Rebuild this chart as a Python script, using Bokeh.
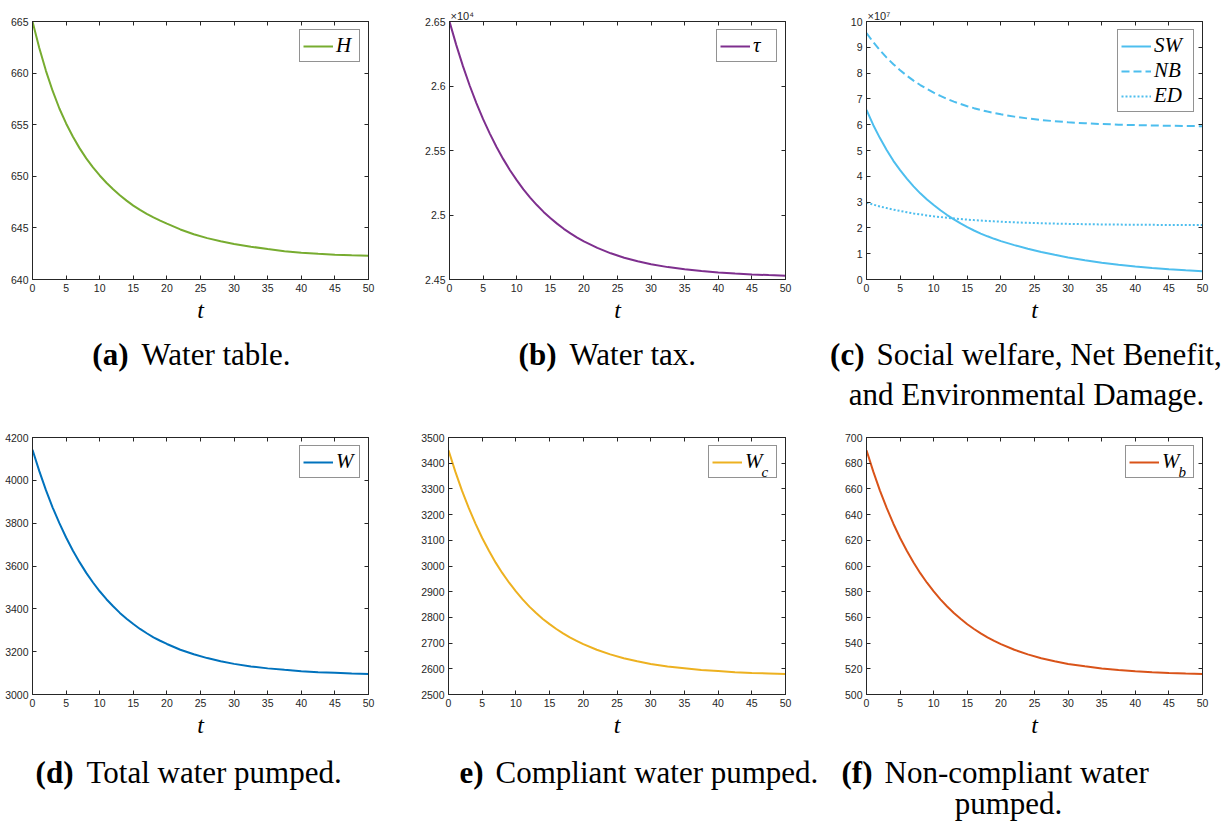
from bokeh.plotting import figure
from bokeh.layouts import column, row
from bokeh.models import Range1d, FixedTicker, LinearAxis, Legend, LegendItem, Label
from bokeh.embed import file_html
from bokeh.resources import INLINE

# ---------------- data ----------------
t = [0, 1, 2, 3, 4, 5, 6, 7, 8, 9, 10, 11, 12, 13, 14, 15, 16, 17, 18, 19, 20,
     22, 24, 26, 28, 30, 32.5, 35, 37.5, 40, 42.5, 45, 47.5, 50]

H = [665.00, 662.46, 660.22, 658.27, 656.57, 655.12, 653.85, 652.73, 651.74, 650.86,
     650.08, 649.38, 648.74, 648.16, 647.64, 647.16, 646.74, 646.37, 646.02, 645.70,
     645.41, 644.85, 644.39, 644.01, 643.70, 643.45, 643.18, 642.95, 642.74, 642.60,
     642.49, 642.41, 642.35, 642.30]

TAU = [26500, 26319, 26154, 26004, 25868, 25743, 25631, 25527, 25433, 25347,
       25270, 25199, 25135, 25077, 25024, 24976, 24933, 24893, 24858, 24825,
       24795, 24745, 24703, 24669, 24641, 24619, 24596, 24579, 24565, 24554,
       24546, 24539, 24534, 24530]

SW_e7 = [6.57, 5.99, 5.48, 5.02, 4.60, 4.24, 3.91, 3.61, 3.34, 3.10,
         2.885, 2.683, 2.498, 2.328, 2.172, 2.029, 1.899, 1.781, 1.674, 1.577,
         1.489, 1.333, 1.193, 1.068, 0.956, 0.855, 0.746, 0.650, 0.570, 0.500,
         0.447, 0.400, 0.358, 0.320]
NB_e7 = [9.55, 9.201, 8.886, 8.601, 8.343, 8.111, 7.900, 7.710, 7.538, 7.383,
         7.242, 7.115, 7.000, 6.896, 6.802, 6.718, 6.641, 6.572, 6.509, 6.453,
         6.401, 6.313, 6.241, 6.183, 6.135, 6.095, 6.056, 6.026, 6.002, 5.984,
         5.970, 5.958, 5.950, 5.943]
ED_e7 = [2.980, 2.903, 2.832, 2.768, 2.709, 2.656, 2.607, 2.562, 2.522, 2.484,
         2.451, 2.420, 2.392, 2.366, 2.343, 2.321, 2.302, 2.284, 2.268, 2.253,
         2.240, 2.216, 2.197, 2.180, 2.167, 2.156, 2.144, 2.135, 2.128, 2.122,
         2.118, 2.114, 2.111, 2.109]
E7 = 1e7
SW = [v * E7 for v in SW_e7]
NB = [v * E7 for v in NB_e7]
ED = [v * E7 for v in ED_e7]

W = [4143, 4044, 3954, 3873, 3800, 3733, 3672, 3618, 3568, 3523,
     3482, 3445, 3412, 3381, 3354, 3329, 3306, 3286, 3267, 3251,
     3236, 3209, 3188, 3170, 3155, 3143, 3131, 3122, 3115, 3109,
     3104, 3101, 3098, 3096]
WC = [3450, 3368, 3293, 3226, 3165, 3109, 3059, 3013, 2972, 2935,
      2901, 2870, 2842, 2817, 2794, 2774, 2755, 2738, 2722, 2709,
      2696, 2674, 2656, 2641, 2629, 2619, 2609, 2602, 2595, 2591,
      2587, 2584, 2582, 2580]
WB = [690.0, 673.6, 658.7, 645.2, 632.9, 621.8, 611.8, 602.7, 594.4, 587.0,
      580.2, 574.0, 568.5, 563.4, 558.9, 554.7, 551.0, 547.6, 544.5, 541.7,
      539.2, 534.8, 531.2, 528.2, 525.8, 523.8, 521.9, 520.3, 519.1, 518.1,
      517.4, 516.8, 516.3, 516.0]

# ticks
X_TICKS = [0, 5, 10, 15, 20, 25, 30, 35, 40, 45, 50]
H_TICKS = [640, 645, 650, 655, 660, 665]
TAU_TICKS = [24500, 25000, 25500, 26000, 26500]
TAU_LABELS = ["2.45", "2.5", "2.55", "2.6", "2.65"]
C_TICKS = [i * E7 for i in range(11)]
C_LABELS = [str(i) for i in range(11)]
W_TICKS = [3000, 3200, 3400, 3600, 3800, 4000, 4200]
WC_TICKS = [2500, 2600, 2700, 2800, 2900, 3000, 3100, 3200, 3300, 3400, 3500]
WB_TICKS = [500, 520, 540, 560, 580, 600, 620, 640, 660, 680, 700]

# ---------------- styling ----------------
AX = "#262626"
SANS = "Liberation Sans"
SERIF = "Liberation Serif"
C_H, C_TAU, C_SOC = "#77AC30", "#7E2F8E", "#4DBEEE"
C_W, C_WC, C_WB = "#0072BD", "#EDB120", "#D95319"
CAP_SIZE = "31px"


def style_axis(ax, show):
    ax.axis_line_color = AX
    ax.major_tick_line_color = AX
    ax.major_tick_in = 4
    ax.major_tick_out = 0
    ax.minor_tick_line_color = None
    ax.major_label_text_font = SANS
    if show:
        ax.major_label_text_font_size = "10.5px"
        ax.major_label_text_color = AX
        ax.major_label_standoff = 4
    else:
        ax.major_label_text_font_size = "1px"
        ax.major_label_text_color = None
        ax.major_label_standoff = 0


def panel(w, h, bl, br, bt, bb, yr, yticks, ylabels=None, mult=None):
    p = figure(width=w, height=h, x_range=Range1d(0, 50), y_range=Range1d(*yr),
               output_backend="svg", toolbar_location=None,
               min_border_left=bl, min_border_right=br,
               min_border_top=bt, min_border_bottom=bb,
               background_fill_color="white", border_fill_color="white")
    p.xgrid.visible = False
    p.ygrid.visible = False
    p.outline_line_color = AX
    xa, ya = p.xaxis[0], p.yaxis[0]
    xa.ticker = FixedTicker(ticks=X_TICKS)
    ya.ticker = FixedTicker(ticks=yticks)
    style_axis(xa, True)
    style_axis(ya, True)
    if ylabels is not None:
        ya.major_label_overrides = {float(k): v for k, v in zip(yticks, ylabels)}
    xa.axis_label = "t"
    xa.axis_label_text_font = SERIF
    xa.axis_label_text_font_style = "italic"
    xa.axis_label_text_font_size = "24px"
    xa.axis_label_text_color = "black"
    xa.axis_label_standoff = 2
    top = LinearAxis(ticker=FixedTicker(ticks=X_TICKS))
    style_axis(top, False)
    p.add_layout(top, "above")
    right = LinearAxis(ticker=FixedTicker(ticks=yticks))
    style_axis(right, False)
    p.add_layout(right, "right")
    if mult is not None:
        p.title.text = mult
        p.title.align = "left"
        p.title.text_font = SANS
        p.title.text_font_size = "11px"
        p.title.text_font_style = "normal"
        p.title.text_color = AX
        p.title.standoff = 0
        p.title.offset = 1
    return p


def legend(p, items, label_width=20, bg_alpha=1.0):
    leg = Legend(items=[LegendItem(label=l, renderers=[r]) for l, r in items],
                 location="top_right", margin=8, padding=3, spacing=0,
                 glyph_width=30, glyph_height=18, label_standoff=3,
                 label_width=label_width, label_height=18,
                 border_line_color=AX, border_line_width=1,
                 background_fill_color="white", background_fill_alpha=bg_alpha,
                 label_text_font=SERIF, label_text_font_style="italic",
                 label_text_font_size="21px", label_text_color="black")
    p.add_layout(leg)


def subscript(p, y1, text):
    p.add_layout(Label(x=50, y=y1, x_offset=-24, y_offset=-34, text=text,
                       text_align="left", text_baseline="alphabetic",
                       text_font=SERIF, text_font_style="italic",
                       text_font_size="15px", text_color="black"))


def caption_fig(w, h, lines):
    c = figure(width=w, height=h, x_range=Range1d(0, w), y_range=Range1d(0, h),
               output_backend="svg", toolbar_location=None, min_border=0,
               x_axis_type=None, y_axis_type=None, outline_line_color=None,
               background_fill_color="white", border_fill_color="white")
    try:
        c.frame_align = False
    except Exception:
        pass
    c.grid.visible = False
    for x, y, txt, align, style in lines:
        c.add_layout(Label(x=x, y=y, text=txt, text_align=align,
                           text_baseline="alphabetic", text_font=SERIF,
                           text_font_style=style, text_font_size=CAP_SIZE,
                           text_color="black"))
    return c


# layout geometry (page pixels)
COLW = (408, 418, 398)
R1P, R1C = 326, 100
R2P, R2C = 314, 82
BT1, BB1 = 21, 47
BT2, BB2 = 11, 45
Y1A, Y1B = 72, 32   # caption baselines, row 1
Y2A, Y2B = 50, 19   # caption baselines, row 2

# (a) water table
pa = panel(COLW[0], R1P, 32, 40, BT1, BB1, (640, 665), H_TICKS)
ra = pa.line(t, H, line_color=C_H, line_width=2)
legend(pa, [("H", ra)])
ca = caption_fig(COLW[0], R1C, [(128, Y1A, "(a)", "right", "bold"),
                                (141, Y1A, "Water table.", "left", "normal")])

# (b) water tax
pb = panel(COLW[1], R1P, 41, 41, BT1, BB1, (24500, 26500), TAU_TICKS, TAU_LABELS, mult="×10⁴")
rb = pb.line(t, TAU, line_color=C_TAU, line_width=2)
legend(pb, [("τ", rb)])
cb = caption_fig(COLW[1], R1C, [(148, Y1A, "(b)", "right", "bold"),
                                (161, Y1A, "Water tax.", "left", "normal")])

# (c) social welfare, net benefit, environmental damage
pc = panel(COLW[2], R1P, 40, 22, BT1, BB1, (0, 1e8), C_TICKS, C_LABELS, mult="×10⁷")
r_sw = pc.line(t, SW, line_color=C_SOC, line_width=2)
r_nb = pc.line(t, NB, line_color=C_SOC, line_width=2, line_dash="8 4")
r_ed = pc.line(t, ED, line_color=C_SOC, line_width=2, line_dash="2 2")
legend(pc, [("SW", r_sw), ("NB", r_nb), ("ED", r_ed)], label_width=36)
cc = caption_fig(COLW[2], R1C, [(38, Y1A, "(c)", "right", "bold"),
                                (50, Y1A, "Social welfare, Net Benefit,", "left", "normal"),
                                (200, Y1B, "and Environmental Damage.", "center", "normal")])

# (d) total water pumped
pd = panel(COLW[0], R2P, 32, 40, BT2, BB2, (3000, 4200), W_TICKS)
rd = pd.line(t, W, line_color=C_W, line_width=2)
legend(pd, [("W", rd)])
cd = caption_fig(COLW[0], R2C, [(73, Y2A, "(d)", "right", "bold"),
                                (86, Y2A, "Total water pumped.", "left", "normal")])

# (e) compliant water pumped
pe = panel(COLW[1], R2P, 40, 41, BT2, BB2, (2500, 3500), WC_TICKS)
re_ = pe.line(t, WC, line_color=C_WC, line_width=2)
legend(pe, [("W", re_)], label_width=28, bg_alpha=0.0)
subscript(pe, 3500, "c")
ce = caption_fig(COLW[1], R2C, [(75, Y2A, "e)", "right", "bold"),
                                (87, Y2A, "Compliant water pumped.", "left", "normal")])

# (f) non-compliant water pumped
pf = panel(COLW[2], R2P, 40, 22, BT2, BB2, (500, 700), WB_TICKS)
rf = pf.line(t, WB, line_color=C_WB, line_width=2)
legend(pf, [("W", rf)], label_width=28, bg_alpha=0.0)
subscript(pf, 700, "b")
cf = caption_fig(COLW[2], R2C, [(46, Y2A, "(f)", "right", "bold"),
                                (58, Y2A, "Non-compliant water", "left", "normal"),
                                (182, Y2B, "pumped.", "center", "normal")])

layout = column(
    row(column(pa, ca), column(pb, cb), column(pc, cc)),
    row(column(pd, cd), column(pe, ce), column(pf, cf)),
)

open("out.html", "w").write(file_html(layout, INLINE))
